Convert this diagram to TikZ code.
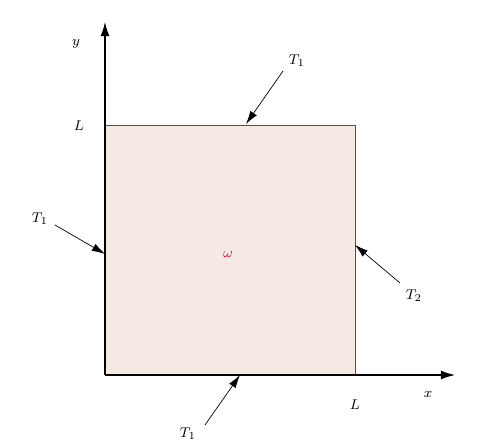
\documentclass[tikz,border=0pt]{standalone}
\usetikzlibrary{arrows.meta}
\definecolor{domfill}{RGB}{245,233,228}
\definecolor{domline}{RGB}{140,60,30}
\definecolor{omegared}{RGB}{230,20,70}
\begin{document}
\begin{tikzpicture}[x=1cm, y=1cm, font=\footnotesize,
    flux/.style={-{Latex[length=7.5pt,width=4.5pt]}, line width=0.4pt}]
    \useasboundingbox (-2.1,-1.42) rectangle (7.52,7.5);
    \draw[fill=domfill, draw=domline, line width=0.4pt] (0,0) rectangle (5,5);
    \draw[-{Latex[length=8pt,width=5pt]}, line width=0.6pt] (0,0) -- (7,0);
    \draw[-{Latex[length=8pt,width=5pt]}, line width=0.6pt] (0,0) -- (0,7.06);
    \node (ylab) at (-0.58,6.62) {$y$};
    \node (xlab) at (6.46,-0.38) {$x$};
    \node (Ly) at (-0.52,4.98) {$L$};
    \node (Lx) at (5.0,-0.6) {$L$};
    \node[text=omegared] (om) at (2.46,2.42) {$\omega$};
    % boundary conditions
    \node (Ttop) at (3.84,6.28) {$T_1$};
    \coordinate (atop) at (3.56,6.08);
    \coordinate (btop) at (2.82,5.02);
    \draw[flux] (atop) -- (btop);
    \node (Tleft) at (-1.3,3.12) {$T_1$};
    \coordinate (aleft) at (-1.0,3.0);
    \coordinate (bleft) at (0,2.42);
    \draw[flux] (aleft) -- (bleft);
    \node (Tright) at (6.18,1.58) {$T_2$};
    \coordinate (aright) at (5.9,1.84);
    \coordinate (bright) at (5.0,2.6);
    \draw[flux] (aright) -- (bright);
    \node (Tbot) at (1.66,-1.18) {$T_1$};
    \coordinate (abot) at (2.0,-1.0);
    \coordinate (bbot) at (2.7,0);
    \draw[flux] (abot) -- (bbot);
\end{tikzpicture}
\end{document}
